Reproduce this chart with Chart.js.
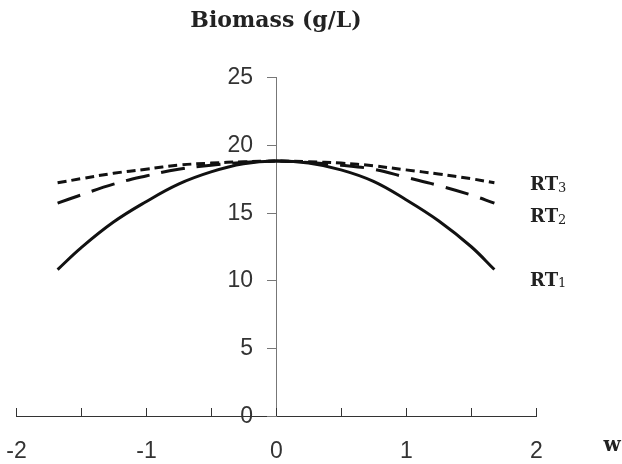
<!DOCTYPE html>
<html>
<head>
<meta charset="utf-8">
<script src="https://cdn.jsdelivr.net/npm/chart.js@4"></script>
<style>
html, body { margin: 0; padding: 0; background: #fff; }
#wrap { width: 622px; height: 464px; }
</style>
</head>
<body>
<div id="wrap"><canvas id="mycanvas" width="622" height="464"></canvas></div>
<script>
var W = [-1.68, -1.5, -1.25, -1, -0.75, -0.5, -0.25, 0, 0.25, 0.5, 0.75, 1, 1.25, 1.5, 1.68];
var RT1 = [10.8, 12.4, 14.3, 15.8, 17.1, 18.0, 18.6, 18.8, 18.65, 18.15, 17.3, 15.95, 14.4, 12.5, 10.8];
var RT2 = [15.7, 16.3, 17.1, 17.7, 18.2, 18.5, 18.7, 18.8, 18.7, 18.5, 18.2, 17.6, 17.0, 16.3, 15.7];
var RT3 = [17.2, 17.5, 17.9, 18.2, 18.5, 18.65, 18.75, 18.8, 18.75, 18.65, 18.45, 18.15, 17.85, 17.5, 17.2];
var names = ["RT", "RT", "RT"];
var subs = ["3", "2", "1"];

function pts(ys) {
	var out = [];
	for (var i in W) {
		out.push({x: W[i], y: ys[i]});
	}
	return out;
}

// axes are drawn by hand: x ticks point up, y axis sits at w = 0
var extras = {
	id: "extras",
	afterDraw: function(chart) {
		var ctx = chart.ctx;
		var xs = chart.scales.x;
		var ys = chart.scales.y;
		var y0 = ys.getPixelForValue(0);
		var x0 = xs.getPixelForValue(0);
		ctx.save();
		ctx.lineWidth = 1;

		ctx.strokeStyle = "#333";
		ctx.fillStyle = "#333";
		ctx.font = "23px 'Liberation Sans'";
		ctx.textAlign = "center";
		ctx.textBaseline = "middle";
		xs.ticks.forEach(function(t) {
			var px = Math.round(xs.getPixelForValue(t.value)) + 0.5;
			ctx.beginPath();
			ctx.moveTo(px, y0);
			ctx.lineTo(px, y0 - 8);
			ctx.stroke();
			if (Number.isInteger(t.value)) {
				ctx.fillText(String(t.value), px, y0 + 36);
			}
		});

		ctx.strokeStyle = "#777";
		ctx.textAlign = "right";
		ys.ticks.forEach(function(t) {
			var py = Math.round(ys.getPixelForValue(t.value)) + 0.5;
			ctx.beginPath();
			ctx.moveTo(x0, py);
			ctx.lineTo(x0 - 9, py);
			ctx.stroke();
			ctx.fillText(String(t.value), x0 - 23, py);
		});

		var lx = xs.getPixelForValue(2) - 6;
		var rows = [17.0, 14.65, 9.95];
		ctx.fillStyle = "#222";
		ctx.textAlign = "left";
		for (var k = 0; k < 3; k++) {
			var py2 = ys.getPixelForValue(rows[k]);
			ctx.font = "bold 18px 'DejaVu Serif'";
			ctx.fillText(names[k], lx, py2);
			var tw = ctx.measureText(names[k]).width;
			ctx.font = "13px 'DejaVu Serif'";
			ctx.fillText(subs[k], lx + tw, py2 + 3);
		}
		ctx.font = "bold 20px 'DejaVu Serif'";
		ctx.textAlign = "center";
		ctx.fillText("w", xs.getPixelForValue(2) + 76, y0 + 30);
		ctx.restore();
	}
};

var chartdata = {
	datasets: [
		{
			label: "RT1",
			data: pts(RT1),
			borderColor: "#111",
			borderWidth: 3,
			pointRadius: 0,
			tension: 0.4,
			fill: false
		},
		{
			label: "RT2",
			data: pts(RT2),
			borderColor: "#111",
			borderWidth: 3,
			borderDash: [24, 12],
			pointRadius: 0,
			tension: 0.4,
			fill: false
		},
		{
			label: "RT3",
			data: pts(RT3),
			borderColor: "#111",
			borderWidth: 3,
			borderDash: [9, 5],
			pointRadius: 0,
			tension: 0.4,
			fill: false
		}
	]
};

var ctx = document.getElementById("mycanvas");

var LineGraph = new Chart(ctx, {
	type: "line",
	data: chartdata,
	plugins: [extras],
	options: {
		responsive: false,
		animation: false,
		layout: { padding: { left: 16, right: 86, top: 0, bottom: 48 } },
		plugins: {
			legend: { display: false },
			tooltip: { enabled: false },
			title: {
				display: true,
				text: "Biomass (g/L)",
				color: "#222",
				font: { family: "'DejaVu Serif'", size: 22, weight: "bold", lineHeight: 1.2 },
				padding: { top: 8, bottom: 42.6 }
			}
		},
		scales: {
			x: {
				type: "linear",
				min: -2,
				max: 2,
				border: { color: "#333", width: 1 },
				grid: { display: false, drawTicks: false },
				ticks: { display: false, stepSize: 0.5 }
			},
			y: {
				position: { x: 0 },
				min: 0,
				max: 25,
				border: { color: "#777", width: 1 },
				grid: { display: false, drawTicks: false },
				ticks: { display: false, stepSize: 5 }
			}
		}
	}
});
</script>
</body>
</html>
